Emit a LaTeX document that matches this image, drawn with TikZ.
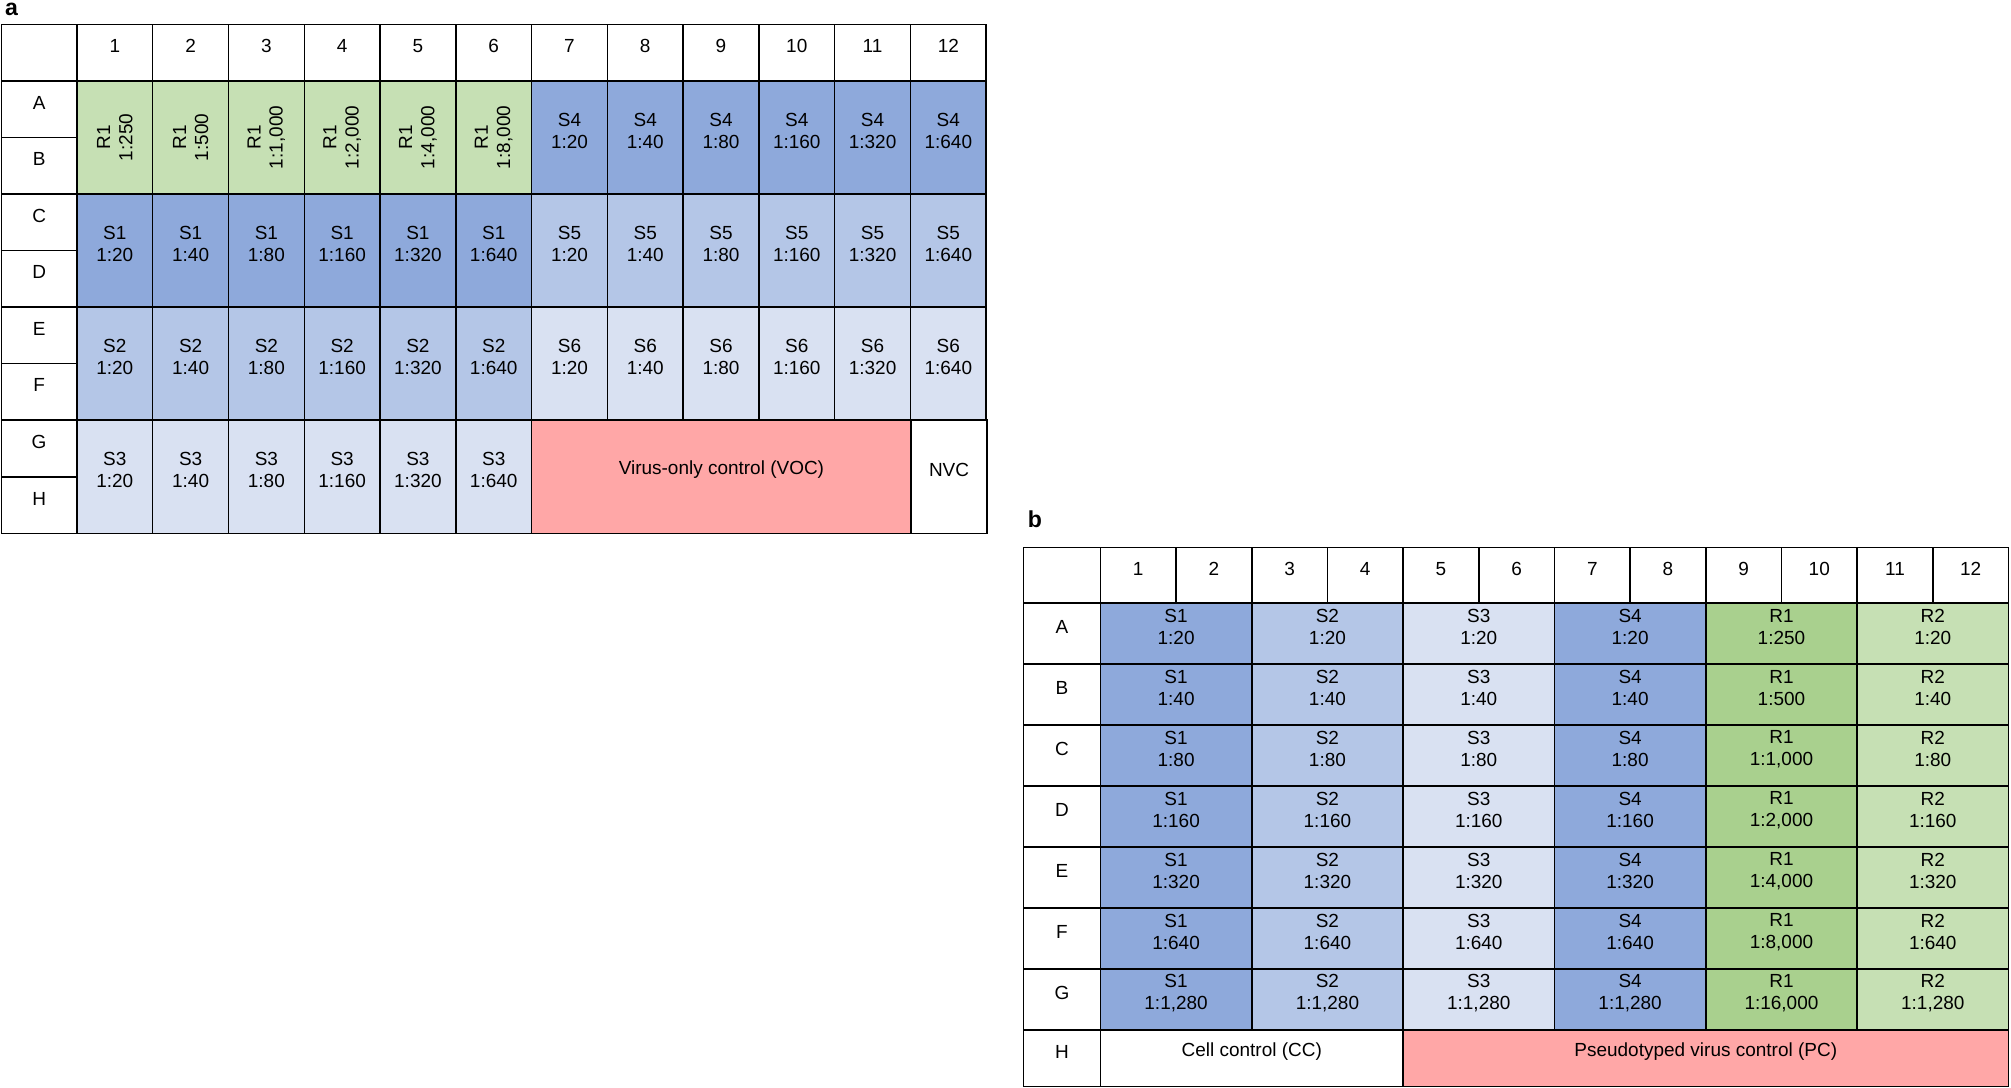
\documentclass[tikz,border=0pt]{standalone}
\usepackage{fontspec}
\setmainfont{Liberation Sans}
\usetikzlibrary{fit}
\definecolor{sdark}{HTML}{8EA9DB}
\definecolor{smid}{HTML}{B4C6E7}
\definecolor{slight}{HTML}{D9E1F2}
\definecolor{gdark}{HTML}{A9D08E}
\definecolor{glight}{HTML}{C6E0B4}
\definecolor{ctrl}{HTML}{FFA7A7}
\newcommand\cellfont{\fontsize{7.4}{8.6}\selectfont}
\begin{document}
\begin{tikzpicture}[x=0.5pt,y=-0.5pt,
  cell/.style={draw=black,line width=0.6pt,inner sep=0pt,font=\cellfont,align=center},
  panel/.style={font=\fontsize{9}{10}\selectfont\bfseries}]
\useasboundingbox (0,0) rectangle (1568,848);
\node[panel] (la) at (9,7) {a};
\node[panel] (lb) at (807,405) {b};
% plate a
\node[cell,fit={(1,19)(60,63)}] (a00) {};
\foreach \c in {1,...,12}{
  \pgfmathsetmacro\xl{60+59.08*(\c-1)}\pgfmathsetmacro\xr{\xl+59.08}
  \node[cell,fit={(\xl,19)(\xr,63)}] (ac\c) {\c};}
\foreach \r [count=\j] in {A,B,C,D,E,F,G,H}{
  \pgfmathsetmacro\yt{63+44.1*(\j-1)}\pgfmathsetmacro\yb{\yt+44.1}
  \node[cell,fit={(1,\yt)(60,\yb)}] (ar\r) {\r};}
\foreach \d [count=\k] in {250,500,{1,000},{2,000},{4,000},{8,000}}{
  \pgfmathsetmacro\xl{60+59.08*(\k-1)}\pgfmathsetmacro\xr{\xl+59.08}
  \node[cell,fill=glight,fit={(\xl,63)(\xr,151.2)}] (aR\k) {};
  \node[font=\cellfont,align=center,rotate=90] at (aR\k.center) {R1\\1:\d};}
\foreach \p/\s/\f/\first in {1/S4/sdark/7,2/S1/sdark/1,2/S5/smid/7,3/S2/smid/1,3/S6/slight/7,4/S3/slight/1}{
  \foreach \d [count=\k] in {20,40,80,160,320,640}{
    \pgfmathsetmacro\xl{60+59.08*(\first+\k-2)}\pgfmathsetmacro\xr{\xl+59.08}
    \pgfmathsetmacro\yt{63+88.2*(\p-1)}\pgfmathsetmacro\yb{\yt+88.2}
    \node[cell,fill=\f,fit={(\xl,\yt)(\xr,\yb)}] (a\s\k) {\s\\1:\d};}}
\node[cell,fill=ctrl,fit={(414.5,327.6)(710.5,416)}] (avoc) {Virus-only control (VOC)};
\node[cell,fit={(710.5,327.6)(769.5,416)}] (anvc) {NVC};
% plate b
\node[cell,fit={(798,427)(858,470)}] (b00) {};
\foreach \c in {1,...,12}{
  \pgfmathsetmacro\xl{858+59*(\c-1)}\pgfmathsetmacro\xr{\xl+59}
  \node[cell,fit={(\xl,427)(\xr,470)}] (bc\c) {\c};}
\foreach \r [count=\j] in {A,B,C,D,E,F,G}{
  \pgfmathsetmacro\yt{470+47.6*(\j-1)}\pgfmathsetmacro\yb{\yt+47.6}
  \node[cell,fit={(798,\yt)(858,\yb)}] (br\r) {\r};}
\node[cell,fit={(798,803)(858,847)}] (brH) {H};
\foreach \s/\f/\m in {S1/sdark/1,S2/smid/2,S3/slight/3,S4/sdark/4,R2/glight/6}{
  \foreach \d [count=\j] in {20,40,80,160,320,640,{1,280}}{
    \pgfmathsetmacro\xl{858+118*(\m-1)}\pgfmathsetmacro\xr{\xl+118}
    \pgfmathsetmacro\yt{470+47.6*(\j-1)}\pgfmathsetmacro\yb{\yt+47.6}
    \node[cell,fill=\f,fit={(\xl,\yt)(\xr,\yb)}] (b\s\j) {\s\\1:\d};}}
\foreach \d [count=\j] in {250,500,{1,000},{2,000},{4,000},{8,000},{16,000}}{
  \pgfmathsetmacro\yt{470+47.6*(\j-1)}\pgfmathsetmacro\yb{\yt+47.6}
  \node[cell,fill=gdark,fit={(1330,\yt)(1448,\yb)}] (bR1\j) {R1\\1:\d};}
\node[cell,fit={(858,803)(1094,847)}] (bcc) {Cell control (CC)};
\node[cell,fill=ctrl,fit={(1094,803)(1566,847)}] (bpc) {Pseudotyped virus control (PC)};
\end{tikzpicture}
\end{document}
